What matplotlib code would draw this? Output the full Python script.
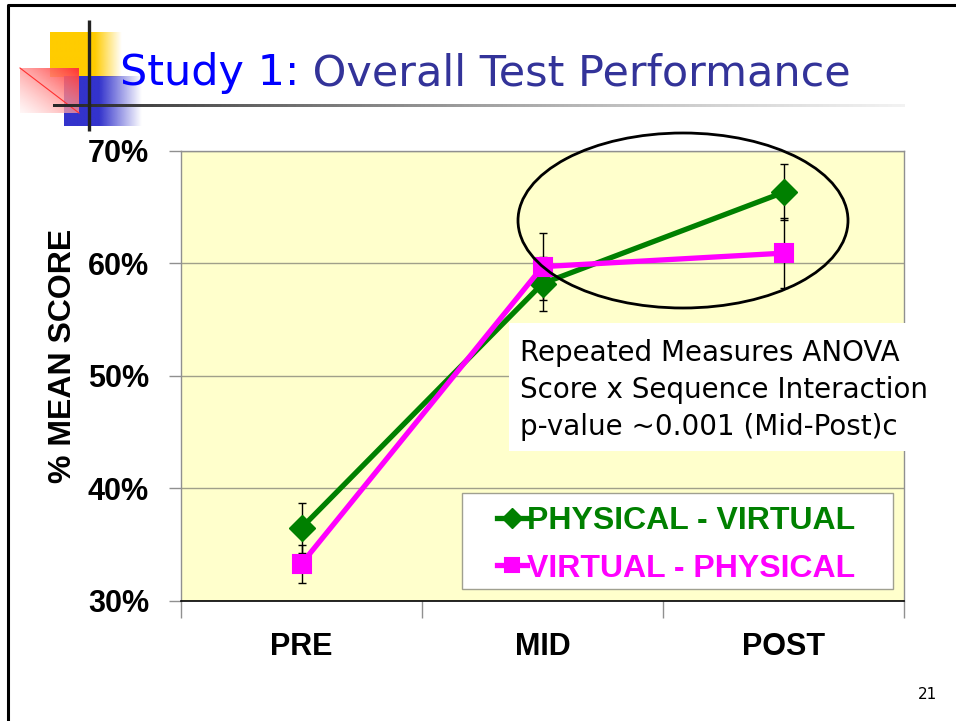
import numpy as np
import matplotlib
matplotlib.use("Agg")
import matplotlib.pyplot as plt
from matplotlib.patches import Ellipse, Rectangle
from matplotlib.ticker import FixedLocator, FuncFormatter

# ---------------- data ----------------
categories = ["PRE", "MID", "POST"]
phys_virt = [36.5, 58.2, 66.3]
phys_virt_err = [2.2, 2.4, 2.5]
virt_phys = [33.3, 59.7, 60.9]
virt_phys_err = [1.7, 3.0, 3.1]
series_names = ["PHYSICAL - VIRTUAL", "VIRTUAL - PHYSICAL"]
y_ticks = [30, 40, 50, 60, 70]
title_a = "Study 1:"
title_b = " Overall Test Performance"
note_lines = ["Repeated Measures ANOVA", "Score x Sequence Interaction", "p-value ~0.001 (Mid-Post)c"]
page_no = "21"

W, H = 956, 721
fig = plt.figure(figsize=(W / 100, H / 100), dpi=100)
fig.patch.set_facecolor("white")

BOLD = ["Liberation Sans", "DejaVu Sans"]
TAHOMA = ["DejaVu Sans"]

def fx(px):
    return px / W

def fy(py):
    return 1 - py / H

# ---------------- background overlay (pixel coords) ----------------
bg = fig.add_axes([0, 0, 1, 1], zorder=0)
bg.set_xlim(0, W)
bg.set_ylim(H, 0)
bg.axis("off")

def hgrad(ax, x0, x1, y0, y1, rgb, solid_frac, z):
    n = 200
    a = np.ones(n)
    k = int(n * solid_frac)
    a[k:] = np.linspace(1, 0, n - k)
    img = np.zeros((1, n, 4))
    img[..., :3] = rgb
    img[0, :, 3] = a
    ax.imshow(img, extent=(x0, x1, y1, y0), aspect="auto", zorder=z, interpolation="bilinear")

hgrad(bg, 50, 122, 32, 77, (1.0, 0.8, 0.0), 0.62, 1)
hgrad(bg, 64, 142, 76, 126, (0.2, 0.2, 0.8), 0.45, 2)
n = 120
yy, xx = np.mgrid[0:n, 0:n] / (n - 1)
t = np.clip((xx + (1 - yy)) / 2, 0, 1)
img = np.zeros((n, n, 4))
img[..., 0] = 1.0
img[..., 1] = 0.95 - 0.75 * t
img[..., 2] = 0.95 - 0.75 * t
img[..., 3] = 0.55 + 0.45 * t
bg.imshow(img, extent=(20, 79, 113, 68), aspect="auto", zorder=3, interpolation="bilinear")
bg.plot([20, 79], [68, 113], color="#ff3030", lw=0.8, zorder=4)
n = 300
img = np.zeros((1, n, 4))
g = np.linspace(0.15, 0.92, n)
img[0, :, 0] = g
img[0, :, 1] = g
img[0, :, 2] = g
img[0, :, 3] = np.linspace(1, 0.6, n)
bg.imshow(img, extent=(53, 905, 107, 104.5), aspect="auto", zorder=5, interpolation="bilinear")
bg.plot([89, 89], [20, 131], color="#222222", lw=2.4, zorder=6, solid_capstyle="butt")
bg.plot([8, 8, W], [H, 5, 5], color="black", lw=2.2, zorder=6)

ta = bg.text(120, 85, title_a, color="#0000ff", fontsize=31, family=TAHOMA, va="baseline", ha="left", zorder=7)
fig.canvas.draw()
r = fig.canvas.get_renderer()
bb = ta.get_window_extent(r)
bg.text(120 + bb.width, 85, title_b, color="#333399", fontsize=31, family=TAHOMA, va="baseline", ha="left", zorder=7)

bg.text(937, 699, page_no, fontsize=11, family=TAHOMA, ha="right", va="baseline", color="black")

# ---------------- main chart ----------------
left, right, top, bottom = 181, 904, 150.7, 601
aw, ah = right - left, bottom - top
ax = fig.add_axes([fx(left), fy(bottom), aw / W, ah / H], zorder=2)
ax.set_facecolor("#ffffcc")
x = np.arange(len(categories))
ax.set_xlim(-0.5, len(categories) - 0.5)
ax.set_ylim(y_ticks[0], y_ticks[-1])

ax.yaxis.set_major_locator(FixedLocator(y_ticks))
ax.yaxis.set_major_formatter(FuncFormatter(lambda v, p: f"{v:.0f}%"))
ax.grid(axis="y", color="#a0a08a", lw=1)
ax.set_axisbelow(True)

ax.set_xticks(x)
ax.set_xticklabels(categories)
ax.set_xticks(np.arange(len(categories) + 1) - 0.5, minor=True)
ax.tick_params(axis="x", which="major", length=0, pad=22)
ax.tick_params(axis="x", which="minor", length=12, color="#909090", width=1)
ax.tick_params(axis="y", length=9, color="#909090", width=1, pad=14)
for lab in ax.get_xticklabels() + ax.get_yticklabels():
    lab.set_family(BOLD)
    lab.set_fontweight("bold")
    lab.set_fontsize(22)

for s in ["left", "top", "right"]:
    ax.spines[s].set_color("#909090")
    ax.spines[s].set_linewidth(1)
ax.spines["bottom"].set_color("black")
ax.spines["bottom"].set_linewidth(1.2)

ax.set_ylabel("% MEAN SCORE", family=BOLD, fontweight="bold", fontsize=23)
ax.yaxis.set_label_coords((78 - left) / aw, (bottom - 356) / ah)

green = "#008000"
magenta = "#ff00ff"
ax.errorbar(x, phys_virt, yerr=phys_virt_err, fmt="none", ecolor="black", elinewidth=1, capsize=3, capthick=1, zorder=2)
ax.errorbar(x, virt_phys, yerr=virt_phys_err, fmt="none", ecolor="black", elinewidth=1, capsize=3, capthick=1, zorder=2)
ax.plot(x, phys_virt, color=green, lw=3.8, marker="D", markersize=13, markeredgewidth=1,
        markeredgecolor=green, solid_joinstyle="round", label=series_names[0], zorder=3)
ax.plot(x, virt_phys, color=magenta, lw=3.8, marker="s", markersize=12.5, markeredgewidth=1.5,
        markeredgecolor=magenta, solid_joinstyle="round", label=series_names[1], zorder=4)

# legend frame drawn separately, legend content placed on it
ax.add_patch(Rectangle((fx(462), fy(589)), (893 - 462) / W, (589 - 493) / H, transform=fig.transFigure,
                       facecolor="white", edgecolor="#a0a090", lw=1, clip_on=False, zorder=4.5))
leg = ax.legend(loc="upper left",
                bbox_to_anchor=((497 - left) / aw, (bottom - 506) / ah),
                prop={"family": BOLD, "weight": "bold", "size": 23},
                frameon=False, borderaxespad=0, borderpad=0, handlelength=0.95,
                handletextpad=0.0, labelspacing=0.55, markerscale=0.75)
leg.set_zorder(6)
for txt, c in zip(leg.get_texts(), [green, magenta]):
    txt.set_color(c)

# ---------------- foreground overlay ----------------
fg = fig.add_axes([0, 0, 1, 1], zorder=5)
fg.set_xlim(0, W)
fg.set_ylim(H, 0)
fg.axis("off")
fg.add_patch(Ellipse((683, 220.5), 330, 175, fill=False, edgecolor="black", lw=2))
fg.add_patch(Rectangle((509, 323), 431, 128, facecolor="white", edgecolor="none"))
for i, line in enumerate(note_lines):
    fg.text(520, 361 + i * 37, line, fontsize=20, family=TAHOMA, va="baseline", ha="left", color="black")

fig.savefig("out.png", dpi=100)
